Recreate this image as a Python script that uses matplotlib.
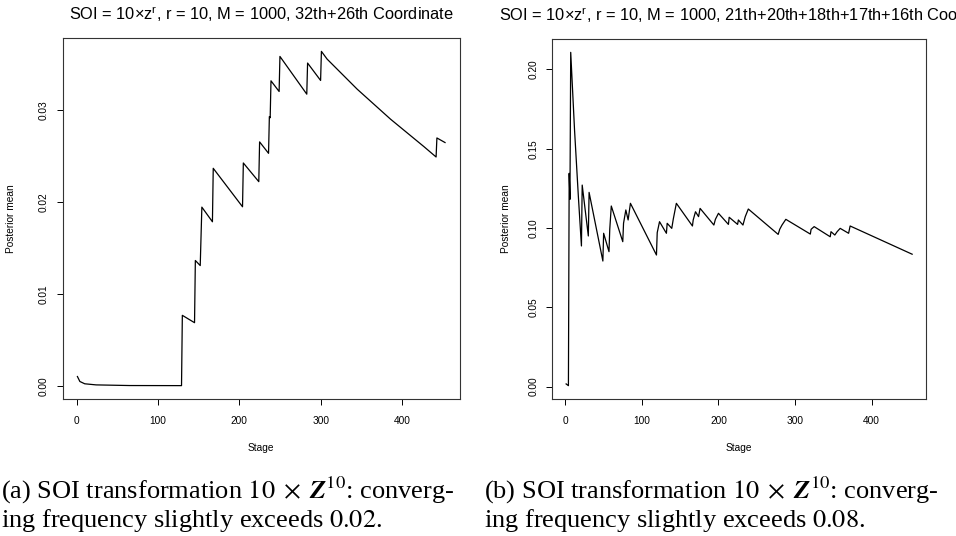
import matplotlib
matplotlib.use('Agg')
import matplotlib.pyplot as plt
import numpy as np

plt.rcParams['font.family'] = ['Liberation Sans', 'DejaVu Sans']
plt.rcParams['mathtext.fontset'] = 'custom'
plt.rcParams['mathtext.rm'] = 'Liberation Sans'
plt.rcParams['mathtext.it'] = 'Liberation Sans'

# panel (a): 32th+26th coordinate
left_stage = [1, 4, 10, 24, 65, 129, 130, 145, 146, 152, 154, 167, 168, 204, 205, 224,
              225, 236, 237, 238, 239, 249, 250, 283, 284, 300, 301, 308, 345, 386, 427,
              442, 443, 453]
left_mean = [0.00101, 0.00047, 0.00022, 0.00010, 0.00003, 0.00002, 0.00766, 0.00686,
             0.01362, 0.01307, 0.01942, 0.01783, 0.02364, 0.01946, 0.02422, 0.02219,
             0.02651, 0.02527, 0.02926, 0.02914, 0.03315, 0.03199, 0.03580, 0.03170,
             0.03508, 0.03319, 0.03635, 0.03551, 0.03224, 0.02898, 0.02600, 0.02487,
             0.02694, 0.02644]

# panel (b): 21th+20th+18th+17th+16th coordinate
right_stage = [1, 4, 5, 6, 7, 12, 17, 21, 22, 30, 31, 49, 50, 57, 58, 60, 75, 76, 79, 82,
               85, 119, 120, 123, 132, 133, 139, 141, 145, 166, 167, 170, 174, 176, 194,
               196, 200, 213, 214, 225, 226, 232, 235, 239, 278, 280, 283, 288, 320, 321,
               325, 346, 347, 352, 355, 359, 370, 372, 453]
right_mean = [0.0017, 0.0006, 0.1345, 0.1181, 0.2108, 0.1618, 0.1198, 0.0887, 0.1271,
              0.0950, 0.1225, 0.0792, 0.0967, 0.0851, 0.0992, 0.1139, 0.0914, 0.1030,
              0.1114, 0.1051, 0.1156, 0.0830, 0.0971, 0.1040, 0.0967, 0.1030, 0.0998,
              0.1057, 0.1156, 0.1013, 0.1051, 0.1103, 0.1072, 0.1124, 0.1019, 0.1055,
              0.1093, 0.1023, 0.1068, 0.1023, 0.1051, 0.1019, 0.1072, 0.1120, 0.0960,
              0.0992, 0.1019, 0.1055, 0.0962, 0.0992, 0.1009, 0.0945, 0.0977, 0.0956,
              0.0977, 0.0998, 0.0967, 0.1013, 0.0835]

titles = ['SOI = 10\u00d7z$^\\mathregular{r}$, r = 10, M = 1000, 32th+26th Coordinate',
          'SOI = 10\u00d7z$^\\mathregular{r}$, r = 10, M = 1000, 21th+20th+18th+17th+16th Coordinate']
yticks_list = [[0.00, 0.01, 0.02, 0.03], [0.00, 0.05, 0.10, 0.15, 0.20]]
xticks = [0, 100, 200, 300, 400]
captions = [['(a) SOI transformation $10\\;\\times\\;\\boldsymbol{Z}^{10}$: converg-',
             'ing frequency slightly exceeds $0.02$.'],
            ['(b) SOI transformation $10\\;\\times\\;\\boldsymbol{Z}^{10}$: converg-',
             'ing frequency slightly exceeds $0.08$.']]


def r_lim(v):
    lo, hi = min(v), max(v)
    d = (hi - lo) * 0.04
    return lo - d, hi + d


fig = plt.figure(figsize=(9.56, 5.36), dpi=100)
ax1 = fig.add_axes([0.0656, 0.2556, 0.4153, 0.6735])
ax2 = fig.add_axes([0.5777, 0.2556, 0.3909, 0.6716])

for ax, xs, ys, title, yt, lx, tx in [(ax1, left_stage, left_mean, titles[0], yticks_list[0], -0.118, 0.5),
                                      (ax2, right_stage, right_mean, titles[1], yticks_list[1], -0.11, 0.5375)]:
    ax.plot(xs, ys, color='black', lw=0.9)
    ax.set_xlim(r_lim(xs))
    ax.set_ylim(r_lim(ys))
    ax.set_xticks(xticks)
    ax.set_yticks(yt)
    ax.set_yticklabels(['%.2f' % t for t in yt], rotation=90, va='center')
    ax.tick_params(labelsize=7.3, length=4.5, width=0.7, direction='out', pad=5.5)
    ax.tick_params(axis='x', pad=8)
    for sp in ax.spines.values():
        sp.set_linewidth(0.8)
        sp.set_color('#333333')
    ax.set_xlabel('Stage', fontsize=7.3)
    ax.set_ylabel('Posterior mean', fontsize=7.3)
    ax.xaxis.set_label_coords(0.5, -0.122)
    ax.yaxis.set_label_coords(lx, 0.5)
    ax.set_title(title, fontsize=11.8, pad=13, x=tx)

for i, (c1, c2) in enumerate(captions):
    x0 = 1 / 956 if i == 0 else 484 / 956
    fig.text(x0, 1 - 490 / 536, c1, fontsize=19, family='Liberation Serif',
             math_fontfamily='stix', ha='left', va='center')
    fig.text(x0, 1 - 520 / 536, c2, fontsize=19, family='Liberation Serif',
             math_fontfamily='stix', ha='left', va='center')

fig.savefig('out.png', dpi=100)
